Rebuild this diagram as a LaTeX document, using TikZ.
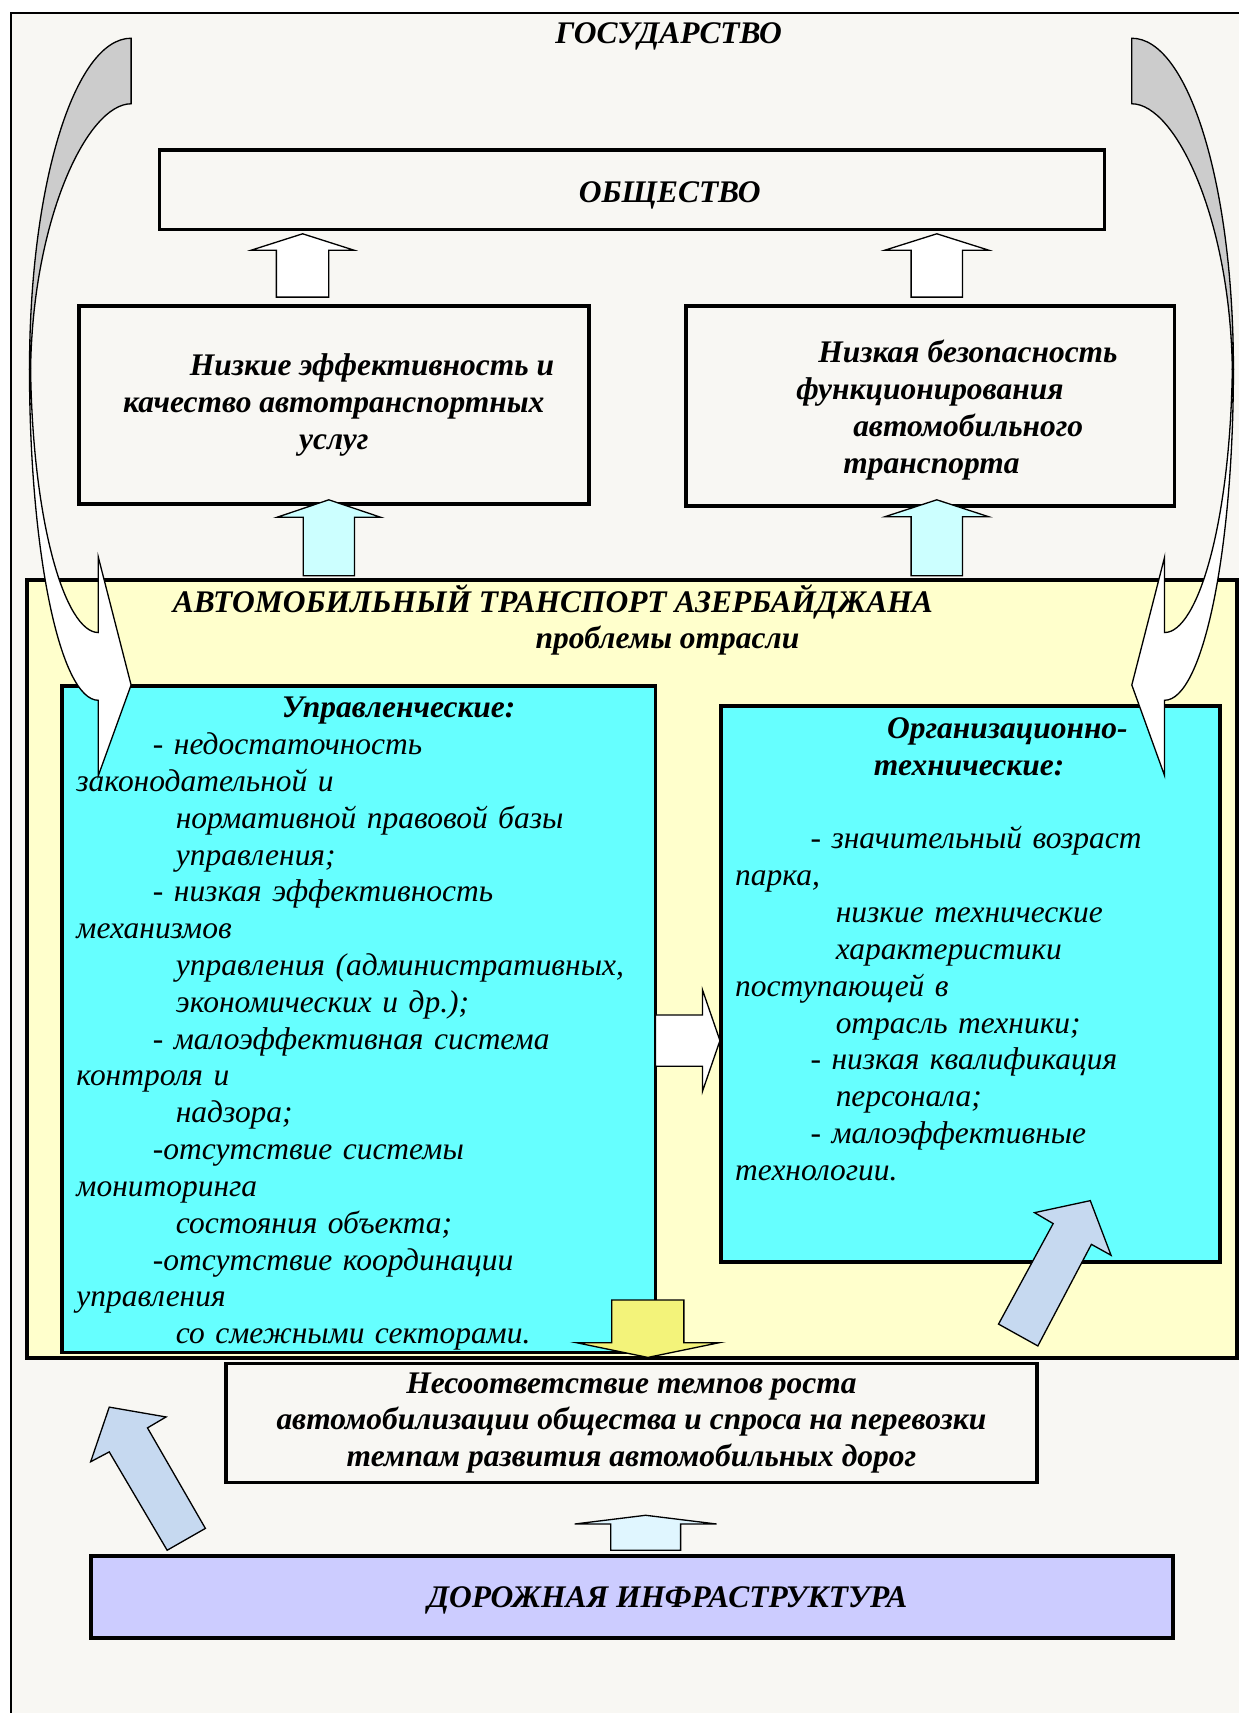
\documentclass[tikz,border=0pt]{standalone}
\usepackage{fontspec}
\setmainfont{Liberation Serif}
\definecolor{paper}{RGB}{248,247,243}
\definecolor{panel}{RGB}{255,255,204}
\definecolor{mcyan}{RGB}{102,255,255}
\definecolor{lcyan}{RGB}{204,255,255}
\definecolor{myellow}{RGB}{243,243,122}
\definecolor{mslate}{RGB}{198,217,240}
\definecolor{mpale}{RGB}{224,246,255}
\definecolor{mlilac}{RGB}{204,204,255}
\definecolor{mgray}{RGB}{204,204,204}
\newcommand{\diagfont}{\fontsize{28.8pt}{33.7pt}\selectfont}
\newcommand{\blockup}[7]{%
    \draw [blockarrow, fill=#7] (#1-#5, #2) -- (#1-#5, #3) -- (#1-#6, #3) -- (#1, #4) -- (#1+#6, #3) -- (#1+#5, #3) -- (#1+#5, #2) -- cycle;}
\newcommand{\curvedribbon}{%
    \draw [blockarrow, fill=mgray] (120, 35) .. controls (68, 35) and (27, 170) .. (27, 338) -- (28, 338) .. controls (30, 200) and (80, 95) .. (120, 95) -- cycle;
    \draw [blockarrow, fill=white] (27, 338) .. controls (27, 505) and (55, 641) .. (90, 641) -- (90, 710) -- (120, 627) -- (90, 510) -- (90, 579) .. controls (60, 579) and (30, 480) .. (28, 338) -- cycle;}

\begin{document}
\begin{tikzpicture}[x=1pt, y=-1pt,
    issuebox/.style={draw, line width=3.5pt, inner sep=0pt, font=\diagfont\bfseries\itshape},
    listbox/.style={draw, line width=3.5pt, fill=mcyan, inner sep=0pt, align=left, font=\diagfont\itshape},
    blockarrow/.style={draw, line width=1.2pt, line join=miter}]
    \useasboundingbox (0, 0) rectangle (1134, 1568);
    \draw [line width=1.3pt, fill=paper] (10, 12) rectangle (1150, 1590);

    \node [font=\diagfont\bfseries\itshape, anchor=base] (state) at (612, 40) {ГОСУДАРСТВО};

    \node [issuebox, minimum width=865pt, minimum height=73pt, text height=24pt, text depth=0pt] (society) at (578.5, 173.5) {\hspace*{69pt}ОБЩЕСТВО};
    \node [issuebox, minimum width=467pt, minimum height=181pt, align=center] (quality) at (305.5, 370.5) {\hspace*{70pt}Низкие эффективность и\\качество автотранспортных\\услуг};
    \node [issuebox, minimum width=447pt, minimum height=183pt, align=left, text height=127pt, text depth=4pt] (safety) at (851.5, 371.5) {\hspace*{69pt}Низкая безопасность\\\hspace*{49pt}функционирования\\\hspace*{101pt}автомобильного\\\hspace*{92pt}транспорта};

    \blockup{277}{272}{229}{214}{24}{47}{white}
    \blockup{857.5}{272}{229}{214}{23.5}{47.5}{white}
    \blockup{301}{527}{473.5}{457.5}{23.5}{47.5}{lcyan}
    \blockup{857.5}{527}{473}{457.5}{23.5}{47.5}{lcyan}

    \node [draw, line width=3.5pt, fill=panel, minimum width=1107pt, minimum height=712pt, inner sep=0pt] (industry) at (578.5, 887) {};
    \node [font=\diagfont\bfseries\itshape, anchor=base west, align=left, inner sep=0pt] (industrytitle) at (158, 594) {АВТОМОБИЛЬНЫЙ ТРАНСПОРТ АЗЕРБАЙДЖАНА\\\hspace*{332pt}проблемы отрасли};

    \node [listbox, minimum width=543pt, minimum height=610pt, text width=517pt, text height=19pt, text depth=571pt] (management) at (328.5, 933) {\hspace*{188pt}\textbf{Управленческие:}\\
        \hspace*{70pt}- недостаточность\\
        законодательной и\\
        \hspace*{91pt}нормативной правовой базы\\
        \hspace*{91pt}управления;\\
        \hspace*{70pt}- низкая эффективность\\
        механизмов\\
        \hspace*{91pt}управления (административных,\\
        \hspace*{91pt}экономических и др.);\\
        \hspace*{70pt}- малоэффективная система\\
        контроля и\\
        \hspace*{91pt}надзора;\\
        \hspace*{70pt}-отсутствие системы\\
        мониторинга\\
        \hspace*{91pt}состояния объекта;\\
        \hspace*{70pt}-отсутствие координации\\
        управления\\
        \hspace*{91pt}со смежными секторами.};
    \node [listbox, minimum width=457pt, minimum height=509pt, text width=431pt, text height=20pt, text depth=469pt] (technical) at (888.5, 900.5) {\hspace*{139pt}\textbf{Организационно-}\\
        \hspace*{127pt}\textbf{технические:}\\[33.7pt]
        \hspace*{69pt}- значительный возраст\\
        парка,\\
        \hspace*{92pt}низкие технические\\
        \hspace*{92pt}характеристики\\
        поступающей в\\
        \hspace*{92pt}отрасль техники;\\
        \hspace*{69pt}- низкая квалификация\\
        \hspace*{92pt}персонала;\\
        \hspace*{69pt}- малоэффективные\\
        технологии.};

    \draw [blockarrow, fill=white] (600, 929) -- (643, 929) -- (643, 906) -- (659, 952.5) -- (643, 999) -- (643, 976) -- (600, 976) -- cycle;
    \blockup{593}{1190}{1229}{1242.5}{33}{65.5}{myellow}
    \draw [blockarrow, fill=mslate] (998, 1099) -- (1017, 1149) -- (999, 1139) -- (950, 1232) -- (914, 1212) -- (964, 1120) -- (947, 1110) -- cycle;

    \node [issuebox, minimum width=742pt, minimum height=109pt, align=center] (mismatch) at (578, 1302.5) {Несоответствие темпов роста\\автомобилизации общества и спроса на перевозки\\темпам развития автомобильных дорог};
    \blockup{591}{1419}{1395}{1387}{32}{65}{mpale}
    \node [issuebox, fill=mlilac, minimum width=991pt, minimum height=75pt, text height=20pt, text depth=0pt] (roads) at (578.5, 1461.5) {\hspace*{65pt}ДОРОЖНАЯ ИНФРАСТРУКТУРА};
    \draw [blockarrow, fill=mslate] (100, 1288) -- (152, 1297) -- (135, 1307) -- (188, 1399) -- (153, 1419) -- (100, 1329) -- (83, 1338) -- cycle;

    \curvedribbon
    \begin{scope}[xshift=1156pt, xscale=-1]
        \curvedribbon
    \end{scope}
\end{tikzpicture}
\end{document}
